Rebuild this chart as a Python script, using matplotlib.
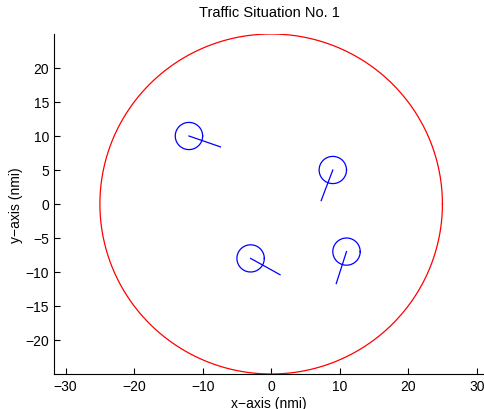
import numpy as np
from matplotlib import pyplot as plt

plt.rcParams['font.family'] = ['Liberation Sans', 'DejaVu Sans']

# zone circle
zone_r = 25.0

# aircraft positions (nmi) and velocity vectors
ac_x = [-12, 9, -3, 11]
ac_y = [10, 5, -8, -7]
vel_x = [4.6, -1.7, 4.3, -1.5]
vel_y = [-1.6, -4.5, -2.4, -4.7]
ac_r = 2.0

fig = plt.figure(figsize=(4.84, 4.10), dpi=100)
ax = fig.add_axes([54 / 484, 35 / 410, 430 / 484, 340 / 410])

t = np.linspace(0, 2 * np.pi, 400)
ax.plot(zone_r * np.cos(t), zone_r * np.sin(t), color='#ff0000', lw=0.9)

for x, y, vx, vy in zip(ac_x, ac_y, vel_x, vel_y):
    ax.plot(x + ac_r * np.cos(t), y + ac_r * np.sin(t), color='#0000ff', lw=0.9)
    ax.plot([x, x + vx], [y, y + vy], color='#0000ff', lw=0.9)

ax.set_xlim(-31.7, 31.07)
ax.set_ylim(-25, 25)
ax.set_xticks(np.arange(-30, 31, 10))
ax.set_yticks(np.arange(-20, 21, 5))
ax.spines['top'].set_visible(False)
ax.spines['right'].set_visible(False)
ax.tick_params(direction='in', length=4, labelsize=10)
ax.set_xlabel('x\u2212axis (nmi)', fontsize=10, labelpad=2)
ax.set_ylabel('y\u2212axis (nmi)', fontsize=10, labelpad=1.5)
ax.set_title('Traffic Situation No. 1', fontsize=10.5, pad=13)

fig.savefig('out.png', dpi=100)
